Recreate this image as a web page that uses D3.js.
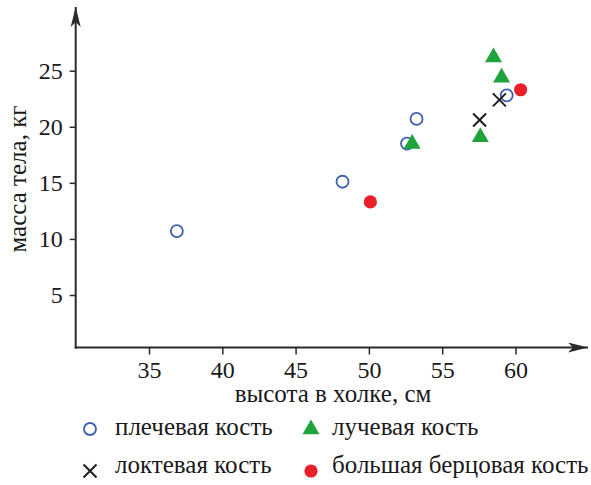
<!DOCTYPE html>
<html>
<head>
<meta charset="utf-8">
<script src="https://cdn.jsdelivr.net/npm/d3@7"></script>
</head>
<body style="margin:0;background:#fff">
<div id="chart"></div>
<script>
// ---- data ----
const xTicks = [35, 40, 45, 50, 55, 60];
const yTicks = [5, 10, 15, 20, 25];
const xLabel = "высота в холке, см";
const yLabel = "масса тела, кг";

const humerusX = [36.9, 48.2, 53.25, 52.6, 59.4];
const humerusY = [10.7, 15.1, 20.7, 18.5, 22.8];

const radiusX = [58.5, 59.05, 57.6, 52.95];
const radiusY = [26.4, 24.6, 19.3, 18.7];

const ulnaX = [58.9, 57.55];
const ulnaY = [22.4, 20.6];

const tibiaX = [60.35, 50.1];
const tibiaY = [23.3, 13.3];

const seriesNames = ["плечевая кость", "лучевая кость", "локтевая кость", "большая берцовая кость"];

// ---- layout ----
const W = 591, H = 485;
const FONT = "Liberation Serif";
const TXT = "#1a1a1a";
const svg = d3.select("#chart").append("svg").attr("width", W).attr("height", H)
  .style("display", "block");

const x = d3.scaleLinear().domain([30, 60]).range([75.7, 515.5]);
const y = d3.scaleLinear().domain([5, 25]).range([295, 70.7]);
const axisY0 = 347.5;   // pixel of horizontal axis
const axisX0 = x(30);   // pixel of vertical axis
const axisColor = "#2a2a2a";

// arrow markers
const defs = svg.append("defs");
defs.append("marker")
  .attr("id", "arrow")
  .attr("viewBox", "0 0 20 10")
  .attr("refX", 20).attr("refY", 5)
  .attr("markerWidth", 20).attr("markerHeight", 10)
  .attr("markerUnits", "userSpaceOnUse")
  .attr("orient", "auto")
  .append("path")
  .attr("d", "M0,0 L20,5 L0,10 L5,5 Z")
  .attr("fill", axisColor);

// axis lines
svg.append("line")
  .attr("x1", axisX0 - 1).attr("y1", axisY0)
  .attr("x2", 588).attr("y2", axisY0)
  .attr("stroke", axisColor).attr("stroke-width", 2)
  .attr("marker-end", "url(#arrow)");
svg.append("line")
  .attr("x1", axisX0).attr("y1", axisY0 + 1)
  .attr("x2", axisX0).attr("y2", 7)
  .attr("stroke", axisColor).attr("stroke-width", 2)
  .attr("marker-end", "url(#arrow)");

// x axis ticks
const gx = svg.append("g").attr("transform", `translate(0,${axisY0})`)
  .call(d3.axisBottom(x).tickValues(xTicks).tickSize(7).tickPadding(6).tickFormat(d3.format("d")));
gx.attr("font-family", FONT).attr("font-size", 24);
gx.select(".domain").remove();
gx.selectAll(".tick line").attr("stroke", axisColor).attr("stroke-width", 1.5);
gx.selectAll(".tick text").attr("font-family", FONT).attr("font-size", 24).attr("fill", TXT);

// y axis ticks
const gy = svg.append("g").attr("transform", `translate(${axisX0},0)`)
  .call(d3.axisLeft(y).tickValues(yTicks).tickSize(6).tickPadding(7).tickFormat(d3.format("d")));
gy.attr("font-family", FONT).attr("font-size", 24);
gy.select(".domain").remove();
gy.selectAll(".tick line").attr("stroke", axisColor).attr("stroke-width", 1.5);
gy.selectAll(".tick text").attr("font-family", FONT).attr("font-size", 24).attr("fill", TXT);

// axis titles
svg.append("text")
  .attr("x", 333).attr("y", 402)
  .attr("text-anchor", "middle")
  .attr("font-family", FONT).attr("font-size", 25).attr("fill", TXT)
  .text(xLabel);
svg.append("text")
  .attr("transform", "translate(26,179) rotate(-90)")
  .attr("text-anchor", "middle")
  .attr("font-family", FONT).attr("font-size", 25).attr("fill", TXT)
  .text(yLabel);

// ---- markers ----
const blue = "#3d5fb0", green = "#1fa33b", red = "#e8202a", black = "#1e1e1e";
const triSym = d3.symbol().type(d3.symbolTriangle).size(125);
const crossPath = s => `M${-s},${-s}L${s},${s}M${-s},${s}L${s},${-s}`;

function drawCircle(g, cx, cy) {
  g.append("circle").attr("cx", cx).attr("cy", cy).attr("r", 6)
    .attr("fill", "none").attr("stroke", blue).attr("stroke-width", 1.8);
}
function drawTri(g, cx, cy) {
  g.append("path").attr("d", triSym()).attr("transform", `translate(${cx},${cy + 2.4})`)
    .attr("fill", green);
}
function drawCross(g, cx, cy) {
  g.append("path").attr("d", crossPath(6.5)).attr("transform", `translate(${cx},${cy})`)
    .attr("stroke", black).attr("stroke-width", 2).attr("fill", "none");
}
function drawDot(g, cx, cy) {
  g.append("circle").attr("cx", cx).attr("cy", cy).attr("r", 6.6).attr("fill", red);
}

const pts = svg.append("g");
humerusX.forEach((v, i) => drawCircle(pts, x(v), y(humerusY[i])));
radiusX.forEach((v, i) => drawTri(pts, x(v), y(radiusY[i])));
ulnaX.forEach((v, i) => drawCross(pts, x(v), y(ulnaY[i])));
tibiaX.forEach((v, i) => drawDot(pts, x(v), y(tibiaY[i])));

// ---- legend ----
const leg = svg.append("g");
const legItems = [
  { fn: drawCircle, mx: 90, my: 429, tx: 115, ty: 435, name: seriesNames[0] },
  { fn: drawTri, mx: 311, my: 427, tx: 332, ty: 435, name: seriesNames[1] },
  { fn: drawCross, mx: 90, my: 471, tx: 115, ty: 473, name: seriesNames[2] },
  { fn: drawDot, mx: 311, my: 471, tx: 332, ty: 473, name: seriesNames[3] }
];
legItems.forEach(d => {
  d.fn(leg, d.mx, d.my);
  leg.append("text").attr("x", d.tx).attr("y", d.ty)
    .attr("font-family", FONT).attr("font-size", 25).attr("fill", TXT).text(d.name);
});
</script>
</body>
</html>
